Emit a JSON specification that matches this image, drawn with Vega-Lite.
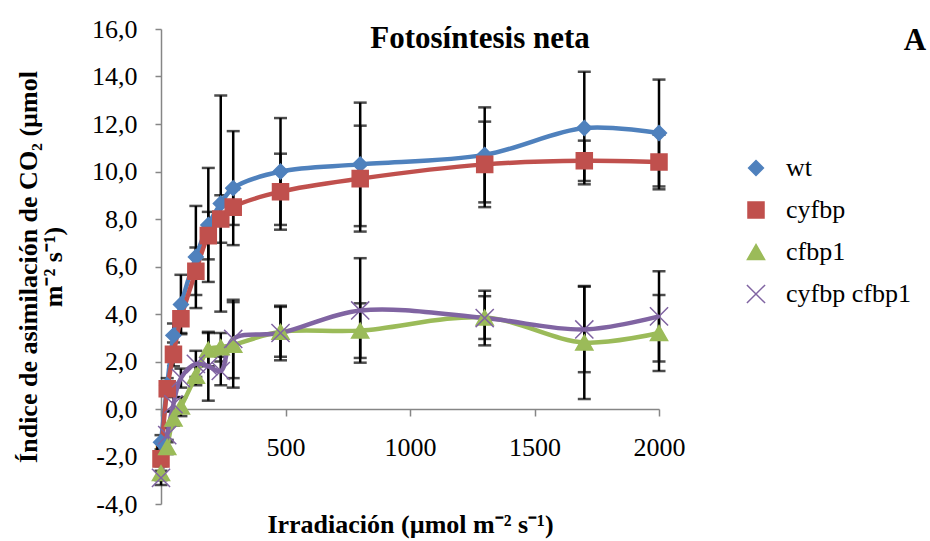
{
  "$schema": "https://vega.github.io/schema/vega-lite/v6.json",
  "autosize": "none",
  "width": 498,
  "height": 475,
  "padding": {"left": 161, "top": 29, "right": 271, "bottom": 37},
  "background": "white",
  "config": {
    "locale": {"number": {"decimal": ",", "thousands": ".", "grouping": [3], "currency": ["", ""], "minus": "-"}},
    "view": {"stroke": null},
    "font": "Liberation Serif"
  },
  "title": {
    "text": "Fotosíntesis neta",
    "anchor": "middle",
    "frame": "group",
    "dx": 70,
    "dy": 38,
    "offset": -25,
    "baseline": "alphabetic",
    "font": "Liberation Serif",
    "fontSize": 31,
    "fontWeight": "bold",
    "color": "black"
  },
  "data": {
    "values": [
      {"series": "wt", "x": 0, "y": -1.4, "err": 0.3},
      {"series": "wt", "x": 25, "y": 1.0, "err": 0.3},
      {"series": "wt", "x": 50, "y": 3.1, "err": 0.5},
      {"series": "wt", "x": 80, "y": 4.4, "err": 1.25},
      {"series": "wt", "x": 140, "y": 6.4, "err": 2.15},
      {"series": "wt", "x": 190, "y": 7.75, "err": 2.4},
      {"series": "wt", "x": 240, "y": 8.65, "err": 4.55},
      {"series": "wt", "x": 290, "y": 9.3, "err": 2.4},
      {"series": "wt", "x": 480, "y": 10.0, "err": 2.25},
      {"series": "wt", "x": 800, "y": 10.3, "err": 2.6},
      {"series": "wt", "x": 1300, "y": 10.7, "err": 2.0},
      {"series": "wt", "x": 1700, "y": 11.83, "err": 2.37},
      {"series": "wt", "x": 2000, "y": 11.62, "err": 2.25},
      {"series": "cyfbp", "x": 0, "y": -2.1, "err": 0.3},
      {"series": "cyfbp", "x": 25, "y": 0.85, "err": 0.3},
      {"series": "cyfbp", "x": 50, "y": 2.3, "err": 0.5},
      {"series": "cyfbp", "x": 80, "y": 3.8, "err": 0.6},
      {"series": "cyfbp", "x": 140, "y": 5.8, "err": 1.0},
      {"series": "cyfbp", "x": 190, "y": 7.3, "err": 1.0},
      {"series": "cyfbp", "x": 240, "y": 8.0, "err": 1.0},
      {"series": "cyfbp", "x": 290, "y": 8.5, "err": 0.75},
      {"series": "cyfbp", "x": 480, "y": 9.15, "err": 1.6},
      {"series": "cyfbp", "x": 800, "y": 9.7, "err": 2.23},
      {"series": "cyfbp", "x": 1300, "y": 10.3, "err": 1.8},
      {"series": "cyfbp", "x": 1700, "y": 10.45, "err": 0.85},
      {"series": "cyfbp", "x": 2000, "y": 10.4, "err": 1.15},
      {"series": "cfbp1", "x": 0, "y": -2.7, "err": 0.3},
      {"series": "cfbp1", "x": 25, "y": -1.6, "err": 0.3},
      {"series": "cfbp1", "x": 50, "y": -0.4, "err": 0.3},
      {"series": "cfbp1", "x": 80, "y": 0.1, "err": 0.4},
      {"series": "cfbp1", "x": 140, "y": 1.4, "err": 0.4},
      {"series": "cfbp1", "x": 190, "y": 2.5, "err": 0.7},
      {"series": "cfbp1", "x": 240, "y": 2.6, "err": 0.6},
      {"series": "cfbp1", "x": 290, "y": 2.7, "err": 1.8},
      {"series": "cfbp1", "x": 480, "y": 3.25, "err": 1.05},
      {"series": "cfbp1", "x": 800, "y": 3.3, "err": 1.15},
      {"series": "cfbp1", "x": 1300, "y": 3.85, "err": 0.9},
      {"series": "cfbp1", "x": 1700, "y": 2.8, "err": 2.38},
      {"series": "cfbp1", "x": 2000, "y": 3.2, "err": 1.6},
      {"series": "cyfbp cfbp1", "x": 0, "y": -2.9, "err": 0.3},
      {"series": "cyfbp cfbp1", "x": 25, "y": -1.1, "err": 0.3},
      {"series": "cyfbp cfbp1", "x": 50, "y": 0.2, "err": 0.3},
      {"series": "cyfbp cfbp1", "x": 80, "y": 1.3, "err": 0.4},
      {"series": "cyfbp cfbp1", "x": 140, "y": 1.9, "err": 0.55},
      {"series": "cyfbp cfbp1", "x": 190, "y": 1.8, "err": 1.45},
      {"series": "cyfbp cfbp1", "x": 240, "y": 1.6, "err": 0.6},
      {"series": "cyfbp cfbp1", "x": 290, "y": 2.95, "err": 1.65},
      {"series": "cyfbp cfbp1", "x": 480, "y": 3.2, "err": 1.15},
      {"series": "cyfbp cfbp1", "x": 800, "y": 4.15, "err": 2.2},
      {"series": "cyfbp cfbp1", "x": 1300, "y": 3.83, "err": 1.15},
      {"series": "cyfbp cfbp1", "x": 1700, "y": 3.35, "err": 1.8},
      {"series": "cyfbp cfbp1", "x": 2000, "y": 3.9, "err": 1.9}
    ]
  },
  "encoding": {
    "x": {
      "field": "x",
      "type": "quantitative",
      "scale": {"domain": [0, 2000], "nice": false, "zero": false},
      "axis": {
        "title": "Irradiación (µmol m⁻² s⁻¹)",
        "titleFont": "Liberation Serif",
        "titleFontSize": 26,
        "titleFontWeight": "bold",
        "titleColor": "black",
        "titlePadding": 51,
        "values": [0, 500, 1000, 1500, 2000],
        "format": "d",
        "grid": false,
        "offset": -95,
        "domainColor": "#868686",
        "domainWidth": 1.5,
        "tickColor": "#868686",
        "tickWidth": 1.5,
        "tickSize": 7,
        "labelFont": "Liberation Serif",
        "labelFontSize": 26,
        "labelColor": "black",
        "labelPadding": 18,
        "labelFlush": false
      }
    },
    "y": {
      "field": "y",
      "type": "quantitative",
      "scale": {"domain": [-4, 16], "nice": false, "zero": false},
      "axis": {
        "title": ["Índice de asimilación de CO₂ (µmol", "m⁻² s⁻¹)"],
        "titleFont": "Liberation Serif",
        "titleFontSize": 26,
        "titleFontWeight": "bold",
        "titleColor": "black",
        "titleLineHeight": 25,
        "titlePadding": 25,
        "values": [-4, -2, 0, 2, 4, 6, 8, 10, 12, 14, 16],
        "format": ".1f",
        "grid": false,
        "domainColor": "#868686",
        "domainWidth": 1.5,
        "tickColor": "#868686",
        "tickWidth": 1.5,
        "tickSize": 6,
        "labelFont": "Liberation Serif",
        "labelFontSize": 26,
        "labelColor": "black",
        "labelPadding": 18
      }
    }
  },
  "layer": [
    {
      "mark": {
        "type": "errorbar",
        "ticks": {"size": 13, "thickness": 2.5, "color": "black"},
        "rule": {"strokeWidth": 2.5, "color": "black"}
      },
      "encoding": {
        "y": {"field": "y", "type": "quantitative"},
        "yError": {"field": "err"}
      }
    },
    {
      "mark": {"type": "line", "interpolate": "catmull-rom", "strokeWidth": 4.5},
      "encoding": {
        "color": {
          "field": "series",
          "type": "nominal",
          "scale": {"domain": ["wt", "cyfbp", "cfbp1", "cyfbp cfbp1"], "range": ["#4F81BD", "#C0504D", "#9BBB59", "#8064A2"]}
        }
      }
    },
    {
      "mark": {"type": "point", "filled": true, "opacity": 1, "strokeWidth": 1.5},
      "encoding": {
        "color": {
          "field": "series",
          "type": "nominal",
          "scale": {"domain": ["wt", "cyfbp", "cfbp1", "cyfbp cfbp1"], "range": ["#4F81BD", "#C0504D", "#9BBB59", "#8064A2"]},
          "legend": {
            "title": null,
            "orient": "none",
            "legendX": 560,
            "legendY": 126,
            "symbolSize": 400,
            "symbolOffset": 22,
            "labelOffset": 17,
            "rowPadding": 16,
            "labelFont": "Liberation Serif",
            "labelFontSize": 26,
            "labelColor": "black",
            "labelLimit": 300
          }
        },
        "stroke": {
          "field": "series",
          "type": "nominal",
          "scale": {"domain": ["wt", "cyfbp", "cfbp1", "cyfbp cfbp1"], "range": ["#4F81BD", "#C0504D", "#9BBB59", "#8064A2"]},
          "legend": null
        },
        "shape": {
          "field": "series",
          "type": "nominal",
          "scale": {"domain": ["wt", "cyfbp", "cfbp1", "cyfbp cfbp1"], "range": ["diamond", "square", "triangle-up", "M-1,-1L1,1M-1,1L1,-1"]},
          "legend": null
        },
        "size": {
          "field": "series",
          "type": "nominal",
          "scale": {"domain": ["wt", "cyfbp", "cfbp1", "cyfbp cfbp1"], "range": [220, 330, 400, 256]},
          "legend": null
        }
      }
    },
    {
      "data": {"values": [{"label": "A", "x": 3028, "y": 15.5}]},
      "mark": {"type": "text", "font": "Liberation Serif", "fontSize": 31, "fontWeight": "bold", "color": "black", "align": "center", "baseline": "middle"},
      "encoding": {
        "x": {"field": "x", "type": "quantitative"},
        "y": {"field": "y", "type": "quantitative"},
        "text": {"field": "label"}
      }
    }
  ]
}
